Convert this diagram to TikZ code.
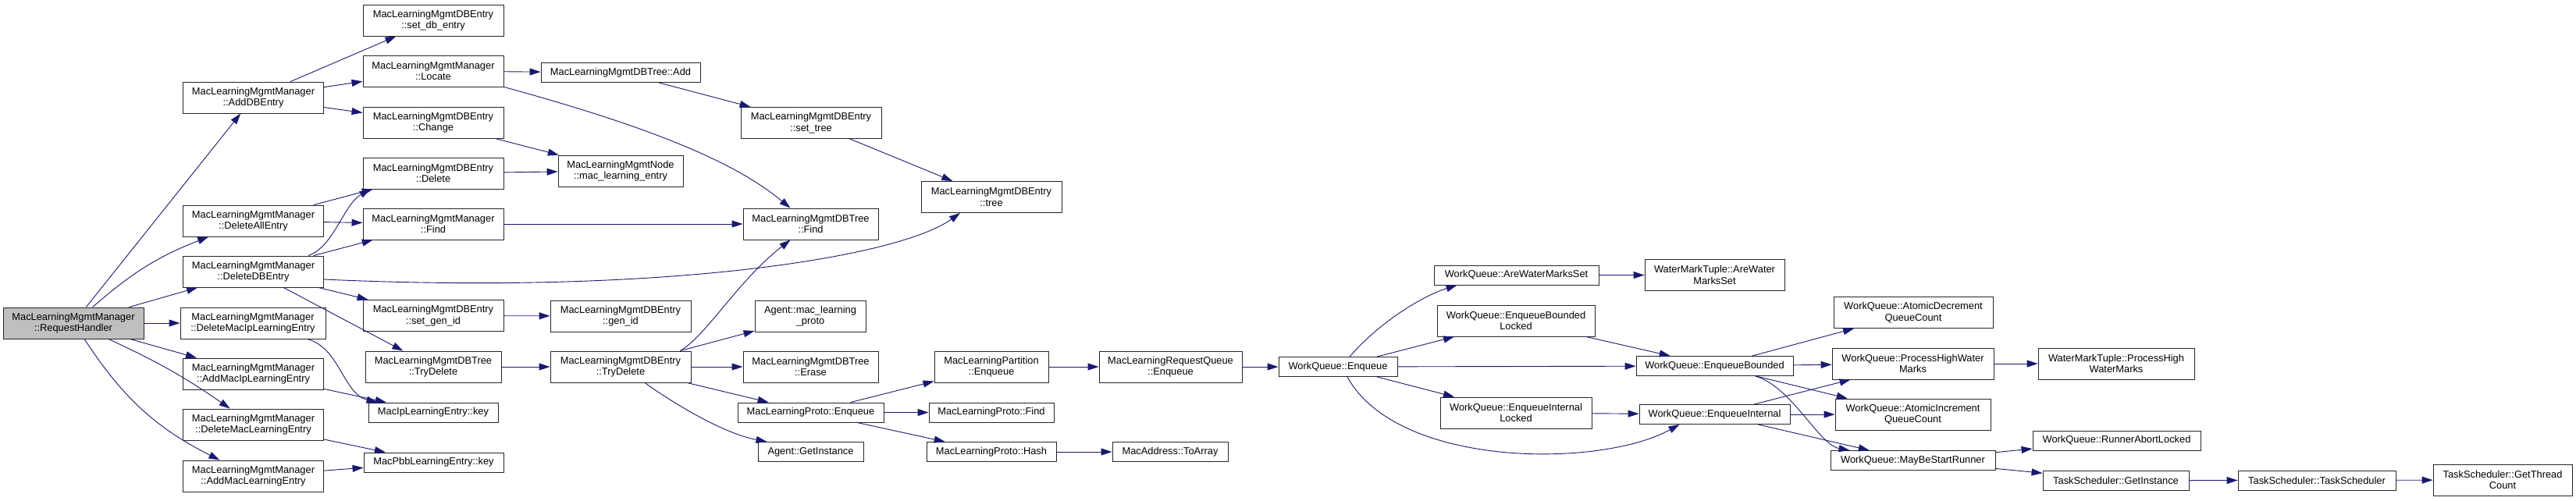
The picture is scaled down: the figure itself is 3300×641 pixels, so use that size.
\documentclass[tikz,border=0pt]{standalone}
\usepackage{fontspec}
\setmainfont{Liberation Sans}
\usepackage{tikz}
\usetikzlibrary{arrows.meta}
\definecolor{callblue}{HTML}{191970}
\definecolor{rootgray}{HTML}{BFBFBF}
\newcommand{\fnfont}{\fontsize{12.85}{14.5}\selectfont}

\begin{document}
\begin{tikzpicture}[x=1pt, y=-1pt, >={Triangle[length=14pt,width=9pt]},
  fnbox/.style={draw=black!85, line width=0.9pt, minimum width=#1, minimum height=40pt,
    inner sep=2pt, align=center, font=\fnfont},
  fnbox/.default=180pt,
  fnline/.style={fnbox=#1, minimum height=25pt},
  fnline/.default=180pt,
  calls/.style={->, draw=callblue, line width=0.9pt}]
  \useasboundingbox (0,0) rectangle (3300,641);

  \node[fnbox, fill=rootgray] (req) at (94,414) {MacLearningMgmtManager\\::RequestHandler};
  \node[fnbox] (adddb) at (324.5,125) {MacLearningMgmtManager\\::AddDBEntry};
  \node[fnbox] (delall) at (324.5,283) {MacLearningMgmtManager\\::DeleteAllEntry};
  \node[fnbox] (deldb) at (324.5,348) {MacLearningMgmtManager\\::DeleteDBEntry};
  \node[fnbox=186pt] (delmacip) at (324,414) {MacLearningMgmtManager\\::DeleteMacIpLearningEntry};
  \node[fnbox] (addmacip) at (324.5,479) {MacLearningMgmtManager\\::AddMacIpLearningEntry};
  \node[fnbox] (delmac) at (324.5,544) {MacLearningMgmtManager\\::DeleteMacLearningEntry};
  \node[fnbox] (addmac) at (324.5,610) {MacLearningMgmtManager\\::AddMacLearningEntry};

  \node[fnbox] (setdb) at (555,26) {MacLearningMgmtDBEntry\\::set\_db\_entry};
  \node[fnbox] (locate) at (555,91) {MacLearningMgmtManager\\::Locate};
  \node[fnbox] (change) at (555,157) {MacLearningMgmtDBEntry\\::Change};
  \node[fnbox] (delete) at (555,222) {MacLearningMgmtDBEntry\\::Delete};
  \node[fnbox] (mfind) at (555,287) {MacLearningMgmtManager\\::Find};
  \node[fnbox] (setgen) at (555,404.5) {MacLearningMgmtDBEntry\\::set\_gen\_id};
  \node[fnbox=174pt] (treetrydel) at (555,470) {MacLearningMgmtDBTree\\::TryDelete};
  \node[fnline=166pt] (ipkey) at (555,528.5) {MacIpLearningEntry::key};
  \node[fnline=179pt] (pbbkey) at (555.5,592.5) {MacPbbLearningEntry::key};

  \node[fnline=204pt] (dbtadd) at (795,93) {MacLearningMgmtDBTree::Add};
  \node[fnbox=160pt] (macnode) at (795,219) {MacLearningMgmtNode\\::mac\_learning\_entry};
  \node[fnbox] (genid) at (795,405) {MacLearningMgmtDBEntry\\::gen\_id};
  \node[fnbox] (entrytrydel) at (795,470) {MacLearningMgmtDBEntry\\::TryDelete};

  \node[fnbox] (settree) at (1039,157.5) {MacLearningMgmtDBEntry\\::set\_tree};
  \node[fnbox=173pt] (dbtfind) at (1038.5,287) {MacLearningMgmtDBTree\\::Find};
  \node[fnbox=142pt] (agentproto) at (1038,405) {Agent::mac\_learning\\\_proto};
  \node[fnbox=173pt] (erase) at (1038.5,470) {MacLearningMgmtDBTree\\::Erase};
  \node[fnline=187pt] (protoenq) at (1038.5,528.5) {MacLearningProto::Enqueue};
  \node[fnline=135pt] (agentinst) at (1038.5,579) {Agent::GetInstance};

  \node[fnbox] (tree) at (1270,252.5) {MacLearningMgmtDBEntry\\::tree};
  \node[fnbox=146pt] (partenq) at (1270,470) {MacLearningPartition\\::Enqueue};
  \node[fnline=160pt] (protofind) at (1270,528.5) {MacLearningProto::Find};
  \node[fnline=166pt] (protohash) at (1270,579) {MacLearningProto::Hash};

  \node[fnbox=183pt] (rqenq) at (1499.5,470) {MacLearningRequestQueue\\::Enqueue};
  \node[fnline=148pt] (toarray) at (1499,579) {MacAddress::ToArray};
  \node[fnline=152pt] (wqenq) at (1714,470) {WorkQueue::Enqueue};

  \node[fnline=211pt] (arewms) at (1942.5,352.5) {WorkQueue::AreWaterMarksSet};
  \node[fnbox=202pt] (enqbl) at (1942,411) {WorkQueue::EnqueueBounded\\Locked};
  \node[fnbox=194pt] (enqil) at (1942,529) {WorkQueue::EnqueueInternal\\Locked};

  \node[fnbox=179pt] (wmtare) at (2196.5,352.5) {WaterMarkTuple::AreWater\\MarksSet};
  \node[fnline=201pt] (enqb) at (2196.5,469) {WorkQueue::EnqueueBounded};
  \node[fnline=193pt] (enqi) at (2196.5,531) {WorkQueue::EnqueueInternal};

  \node[fnbox=204pt] (atomdec) at (2451,400.5) {WorkQueue::AtomicDecrement\\QueueCount};
  \node[fnbox=207pt] (phwm) at (2450.5,466) {WorkQueue::ProcessHighWater\\Marks};
  \node[fnbox=199pt] (atominc) at (2450.5,531) {WorkQueue::AtomicIncrement\\QueueCount};
  \node[fnline=211pt] (maybe) at (2450.5,590) {WorkQueue::MayBeStartRunner};

  \node[fnbox=200pt] (wmtphwm) at (2711,466) {WaterMarkTuple::ProcessHigh\\WaterMarks};
  \node[fnline=215pt] (runabort) at (2711.5,564.5) {WorkQueue::RunnerAbortLocked};
  \node[fnline=187pt] (tsinst) at (2710.5,615.5) {TaskScheduler::GetInstance};
  \node[fnline=202pt] (tsts) at (2968,615.5) {TaskScheduler::TaskScheduler};
  \node[fnbox=178pt] (tsgtc) at (3206,615) {TaskScheduler::GetThread\\Count};

  % request handler fan-out
  \draw[calls] (req) -- (adddb);
  \draw[calls] (req) to[bend left=10] (delall);
  \draw[calls] (req) -- (deldb);
  \draw[calls] (req) -- (delmacip);
  \draw[calls] (req) -- (addmacip);
  \draw[calls] (req) to[bend left=5] (delmac);
  \draw[calls] (req) to[bend right=15] (addmac);

  \draw[calls] (adddb) -- (setdb);
  \draw[calls] (adddb) -- (locate);
  \draw[calls] (adddb) -- (change);
  \draw[calls] (delall) -- (delete);
  \draw[calls] (delall) -- (mfind);
  \draw[calls] ([xshift=-20pt]deldb.north east) .. controls (428,316) and (440,262) .. ([xshift=10pt]delete.south west);
  \draw[calls] (deldb) -- (mfind);
  \draw[calls] ([yshift=-10pt]deldb.east) .. controls (850,378) and (1150,330) .. ([xshift=-40pt]tree.south);
  \draw[calls] (deldb) -- (setgen);
  \draw[calls] (deldb) -- (treetrydel);
  \draw[calls] ([xshift=-24pt]delmacip.south east) .. controls (435,445) and (440,505) .. ([xshift=12pt]ipkey.north west);
  \draw[calls] (addmacip) -- (ipkey);
  \draw[calls] (delmac) -- (pbbkey);
  \draw[calls] (addmac) -- (pbbkey);

  \draw[calls] (locate) -- (dbtadd);
  \draw[calls] (locate.south east) .. controls (860,170) and (950,215) .. ([xshift=-26pt]dbtfind.north);
  \draw[calls] (change) -- (macnode);
  \draw[calls] (delete) -- (macnode);
  \draw[calls] (mfind) -- (dbtfind);
  \draw[calls] (setgen) -- (genid);
  \draw[calls] (treetrydel) -- (entrytrydel);

  \draw[calls] (dbtadd) -- (settree);
  \draw[calls] (settree) -- (tree);
  \draw[calls] ([xshift=-14pt]entrytrydel.north east) .. controls (905,430) and (945,360) .. ([xshift=-26pt]dbtfind.south);
  \draw[calls] (entrytrydel) -- (agentproto);
  \draw[calls] (entrytrydel) -- (erase);
  \draw[calls] (entrytrydel) -- (protoenq);
  \draw[calls] ([xshift=31pt]entrytrydel.south) .. controls (870,522) and (930,556) .. ([xshift=12pt]agentinst.north west);

  \draw[calls] (protoenq) -- (partenq);
  \draw[calls] (protoenq) -- (protofind);
  \draw[calls] (protoenq) -- (protohash);
  \draw[calls] (protohash) -- (toarray);
  \draw[calls] (partenq) -- (rqenq);
  \draw[calls] (rqenq) -- (wqenq);

  % work queue
  \draw[calls] ([xshift=15pt]wqenq.north) .. controls (1765,415) and (1820,380) .. ([xshift=30pt]arewms.south west);
  \draw[calls] (wqenq) -- (enqbl);
  \draw[calls] (wqenq) -- (enqb);
  \draw[calls] (wqenq) -- (enqil);
  \draw[calls] ([xshift=12pt]wqenq.south) .. controls (1790,600) and (2050,600) .. ([xshift=-45pt]enqi.south);
  \draw[calls] (arewms) -- (wmtare);
  \draw[calls] (enqbl) -- (enqb);
  \draw[calls] (enqil) -- (enqi);

  \draw[calls] (enqb) -- (atomdec);
  \draw[calls] (enqb) -- (phwm);
  \draw[calls] (enqb) -- (atominc);
  \draw[calls] ([xshift=52pt]enqb.south) .. controls (2295,495) and (2330,570) .. ([xshift=25pt]maybe.north west);
  \draw[calls] (enqi) -- (phwm);
  \draw[calls] (enqi) -- (atominc);
  \draw[calls] (enqi) -- (maybe);
  \draw[calls] (phwm) -- (wmtphwm);
  \draw[calls] (maybe) -- (runabort);
  \draw[calls] (maybe) -- (tsinst);
  \draw[calls] (tsinst) -- (tsts);
  \draw[calls] (tsts) -- (tsgtc);
\end{tikzpicture}
\end{document}
